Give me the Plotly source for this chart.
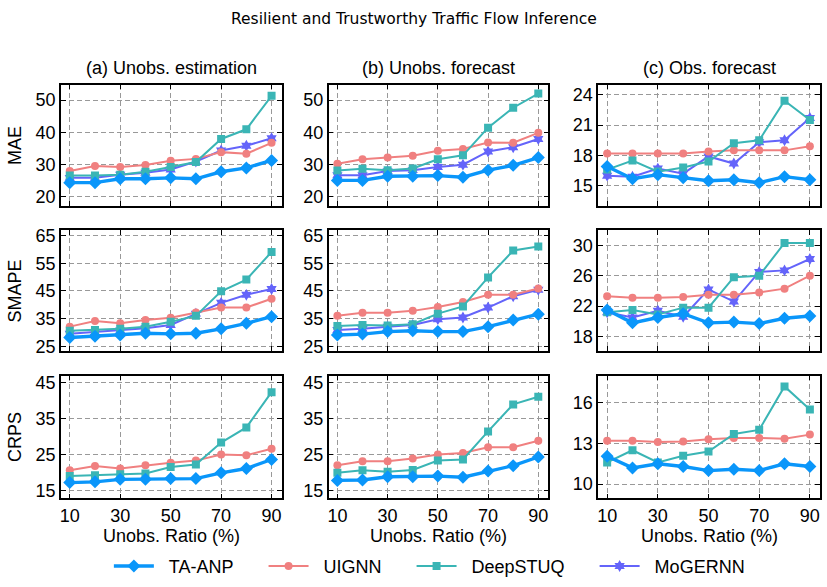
import plotly.graph_objects as go

W, H = 827, 587

ratios = [10, 20, 30, 40, 50, 60, 70, 80, 90]
methods = ["TA-ANP", "UIGNN", "DeepSTUQ", "MoGERNN"]
col_titles = ["(a) Unobs. estimation", "(b) Unobs. forecast", "(c) Obs. forecast"]
row_titles = ["MAE", "SMAPE", "CRPS"]

# MAE
mae_est_ta = [24.3, 24.3, 25.5, 25.5, 25.8, 25.5, 27.7, 28.9, 31.2]
mae_est_ui = [27.9, 29.5, 29.2, 29.8, 31.1, 31.7, 33.8, 33.3, 36.7]
mae_est_ds = [26.5, 26.5, 26.8, 27.7, 29.2, 30.7, 37.9, 40.9, 51.3]
mae_est_mo = [25.8, 25.8, 26.8, 27.4, 28.4, 30.9, 34.3, 35.8, 38.1]

mae_ufc_ta = [25.0, 25.0, 26.3, 26.3, 26.5, 26.0, 28.2, 29.7, 32.1]
mae_ufc_ui = [30.2, 31.6, 32.1, 32.7, 34.2, 34.8, 36.8, 36.7, 39.8]
mae_ufc_ds = [28.1, 28.6, 28.2, 28.7, 31.6, 32.8, 41.4, 47.6, 52.0]
mae_ufc_mo = [26.6, 26.6, 27.9, 28.2, 29.2, 29.9, 34.0, 35.3, 37.9]

mae_ofc_ta = [16.9, 15.7, 16.1, 15.8, 15.5, 15.6, 15.3, 15.9, 15.6]
mae_ofc_ui = [18.2, 18.2, 18.2, 18.2, 18.4, 18.5, 18.5, 18.5, 18.9]
mae_ofc_ds = [16.6, 17.5, 16.4, 16.8, 17.4, 19.2, 19.5, 23.4, 21.5]
mae_ofc_mo = [16.0, 15.9, 16.7, 16.2, 17.9, 17.2, 19.3, 19.5, 21.7]

# SMAPE
smape_est_ta = [28.2, 28.6, 29.1, 29.7, 29.5, 29.7, 31.3, 33.3, 35.7]
smape_est_ui = [32.1, 34.1, 33.3, 34.5, 35.3, 37.2, 39.0, 39.0, 42.2]
smape_est_ds = [30.6, 30.9, 31.3, 32.1, 33.9, 36.0, 44.9, 49.1, 59.1]
smape_est_mo = [29.5, 30.1, 30.7, 31.5, 32.7, 36.8, 40.7, 43.6, 45.7]

smape_ufc_ta = [29.1, 29.4, 30.3, 30.6, 30.3, 30.3, 32.1, 34.5, 36.6]
smape_ufc_ui = [36.0, 37.1, 37.1, 37.8, 39.2, 41.0, 43.6, 43.6, 45.9]
smape_ufc_ds = [32.3, 32.7, 32.5, 33.0, 36.8, 39.4, 49.9, 59.6, 61.1]
smape_ufc_mo = [30.9, 31.3, 32.1, 32.7, 34.8, 35.4, 39.0, 43.1, 45.4]

smape_ofc_ta = [21.5, 19.8, 20.5, 21.0, 19.8, 19.9, 19.7, 20.4, 20.7]
smape_ofc_ui = [23.3, 23.1, 23.1, 23.2, 23.5, 23.5, 23.8, 24.3, 26.0]
smape_ofc_ds = [21.2, 21.5, 20.9, 21.8, 21.8, 25.8, 26.0, 30.3, 30.3]
smape_ofc_mo = [21.2, 20.5, 21.4, 20.6, 24.2, 22.6, 26.5, 26.7, 28.2]

# CRPS (no MoGERNN)
crps_est_ta = [17.3, 17.5, 18.2, 18.2, 18.4, 18.4, 20.0, 21.2, 23.7]
crps_est_ui = [20.7, 21.9, 21.2, 22.1, 22.8, 23.4, 25.1, 24.9, 26.7]
crps_est_ds = [19.1, 19.3, 19.6, 19.8, 21.6, 22.3, 28.4, 32.6, 42.4]

crps_ufc_ta = [17.9, 18.0, 18.9, 18.9, 19.1, 18.8, 20.5, 22.0, 24.4]
crps_ufc_ui = [22.1, 23.2, 23.2, 24.0, 25.1, 25.5, 27.1, 27.1, 28.9]
crps_ufc_ds = [20.0, 20.7, 20.3, 20.8, 23.4, 23.7, 31.5, 39.0, 41.1]

crps_ofc_ta = [12.06, 11.2, 11.5, 11.3, 11.0, 11.1, 11.0, 11.5, 11.3]
crps_ofc_ui = [13.2, 13.2, 13.1, 13.15, 13.3, 13.4, 13.4, 13.35, 13.65]
crps_ofc_ds = [11.6, 12.5, 11.6, 12.1, 12.4, 13.7, 14.0, 17.2, 15.5]

panels = [
    [
        {"TA-ANP": mae_est_ta, "UIGNN": mae_est_ui, "DeepSTUQ": mae_est_ds, "MoGERNN": mae_est_mo},
        {"TA-ANP": mae_ufc_ta, "UIGNN": mae_ufc_ui, "DeepSTUQ": mae_ufc_ds, "MoGERNN": mae_ufc_mo},
        {"TA-ANP": mae_ofc_ta, "UIGNN": mae_ofc_ui, "DeepSTUQ": mae_ofc_ds, "MoGERNN": mae_ofc_mo},
    ],
    [
        {"TA-ANP": smape_est_ta, "UIGNN": smape_est_ui, "DeepSTUQ": smape_est_ds, "MoGERNN": smape_est_mo},
        {"TA-ANP": smape_ufc_ta, "UIGNN": smape_ufc_ui, "DeepSTUQ": smape_ufc_ds, "MoGERNN": smape_ufc_mo},
        {"TA-ANP": smape_ofc_ta, "UIGNN": smape_ofc_ui, "DeepSTUQ": smape_ofc_ds, "MoGERNN": smape_ofc_mo},
    ],
    [
        {"TA-ANP": crps_est_ta, "UIGNN": crps_est_ui, "DeepSTUQ": crps_est_ds},
        {"TA-ANP": crps_ufc_ta, "UIGNN": crps_ufc_ui, "DeepSTUQ": crps_ufc_ds},
        {"TA-ANP": crps_ofc_ta, "UIGNN": crps_ofc_ui, "DeepSTUQ": crps_ofc_ds},
    ],
]

y_ticks = [
    [[20, 30, 40, 50], [20, 30, 40, 50], [15, 18, 21, 24]],
    [[25, 35, 45, 55, 65], [25, 35, 45, 55, 65], [18, 22, 26, 30]],
    [[15, 25, 35, 45], [15, 25, 35, 45], [10, 13, 16]],
]
y_ranges = [
    [[17.2, 54.8], [17.2, 54.8], [13.05, 25.0]],
    [[23.3, 67.0], [23.3, 67.0], [16.1, 32.0]],
    [[12.9, 47.0], [12.9, 47.0], [8.95, 18.0]],
]
x_ticks = [10, 30, 50, 70, 90]

style = {
    "TA-ANP": dict(color="#0A96FA", symbol="diamond", width=3.4, size=10),
    "UIGNN": dict(color="#F08080", symbol="circle", width=2, size=8),
    "DeepSTUQ": dict(color="#3AB5B5", symbol="square", width=2, size=8),
    "MoGERNN": dict(color="#6464FA", symbol="hexagram", width=2, size=9),
}

col_px = [(60, 281), (328, 548), (598, 820)]
row_px = [(82, 205), (230, 353), (378, 503)]

FONT = "Liberation Sans, Arial, sans-serif"
FS = 18
fig = go.Figure()
layout = {}
annotations = []

for r in range(3):
    for c in range(3):
        idx = r * 3 + c + 1
        xa = "x" if idx == 1 else f"x{idx}"
        ya = "y" if idx == 1 else f"y{idx}"
        draw_order = ["MoGERNN", "UIGNN", "DeepSTUQ", "TA-ANP"]
        for m in draw_order:
            if m not in panels[r][c]:
                continue
            s = style[m]
            fig.add_trace(go.Scatter(
                x=ratios, y=panels[r][c][m], name=m, mode="lines+markers",
                xaxis=xa, yaxis=ya,
                line=dict(color=s["color"], width=s["width"]),
                marker=dict(symbol=s["symbol"], size=s["size"], color=s["color"]),
                showlegend=False,
            ))
        x0, x1 = col_px[c]
        y0, y1 = row_px[r]
        common = dict(
            showline=True, linecolor="black", linewidth=1.6, mirror="ticks",
            ticks="inside", ticklen=5, tickwidth=1.3, tickcolor="black",
            showgrid=True, gridcolor="#999999", griddash="5px,3px", gridwidth=1.1,
            zeroline=False, tickfont=dict(size=FS, color="black", family=FONT),
        )
        layout["xaxis" if idx == 1 else f"xaxis{idx}"] = dict(
            domain=[x0 / W, x1 / W], anchor=ya, range=[6.5, 94],
            tickvals=x_ticks, showticklabels=(r == 2), **common,
        )
        layout["yaxis" if idx == 1 else f"yaxis{idx}"] = dict(
            domain=[1 - y1 / H, 1 - y0 / H], anchor=xa, range=y_ranges[r][c],
            tickvals=y_ticks[r][c], **common,
        )

# legend traces in order (non-breaking spaces widen the gaps like the original)
for m in methods:
    s = style[m]
    fig.add_trace(go.Scatter(
        x=[None], y=[None], name="\u00a0\u00a0" + m + "\u00a0" * 5, mode="lines+markers",
        line=dict(color=s["color"], width=s["width"]),
        marker=dict(symbol=s["symbol"], size=s["size"], color=s["color"]),
        showlegend=True,
    ))

for c in range(3):
    x0, x1 = col_px[c]
    annotations.append(dict(
        text=col_titles[c], x=(x0 + x1) / 2 / W, y=1 - 65 / H, xref="paper", yref="paper",
        showarrow=False, font=dict(size=FS, color="black", family=FONT),
        xanchor="center", yanchor="middle",
    ))
    annotations.append(dict(
        text="Unobs. Ratio (%)", x=(x0 + x1) / 2 / W, y=1 - 541 / H, xref="paper", yref="paper",
        showarrow=False, font=dict(size=FS, color="black", family=FONT),
        xanchor="center", yanchor="middle",
    ))
for r in range(3):
    y0, y1 = row_px[r]
    annotations.append(dict(
        text=row_titles[r], x=14 / W, y=1 - (y0 + y1) / 2 / H, xref="paper", yref="paper",
        showarrow=False, textangle=-90, font=dict(size=FS, color="black", family=FONT),
        xanchor="center", yanchor="middle",
    ))

annotations.append(dict(
    text="Resilient and Trustworthy Traffic Flow Inference", x=413 / W, y=1 - 15 / H,
    xref="paper", yref="paper", showarrow=False,
    font=dict(size=15.5, color="black", family="DejaVu Sans, sans-serif"),
    xanchor="center", yanchor="middle",
))

fig.update_layout(
    width=W, height=H, margin=dict(l=0, r=0, t=0, b=0),
    plot_bgcolor="white", paper_bgcolor="white",
    annotations=annotations,
    legend=dict(orientation="h", x=108 / W, xanchor="left", y=1 - 572 / H, yanchor="middle",
                font=dict(size=FS, color="black", family=FONT), itemwidth=40,
                bgcolor="rgba(0,0,0,0)"),
    **layout,
)

fig.write_html("out.html")
